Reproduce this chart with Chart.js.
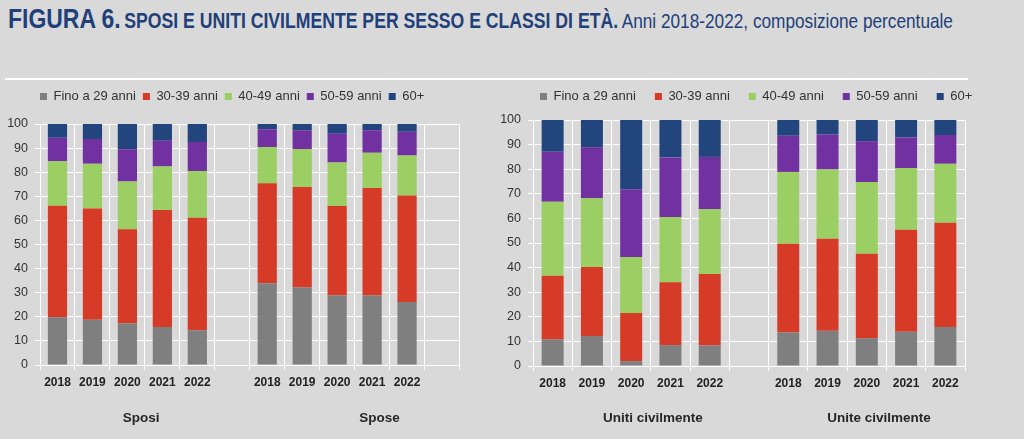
<!DOCTYPE html>
<html>
<head>
<meta charset="utf-8">
<script src="https://cdn.jsdelivr.net/npm/chart.js@4.4.1/dist/chart.umd.min.js"></script>
<style>
  html, body { margin: 0; padding: 0; }
  body { width: 1024px; height: 439px; background: #d9d9d9; position: relative; overflow: hidden; font-family: "Liberation Sans", Arial, sans-serif; }
  .title { position: absolute; left: 8px; top: 5px; white-space: nowrap; color: #213f79; line-height: 1; transform: scaleX(0.82); transform-origin: 0 0; }
  .title .fig { font-weight: bold; font-size: 28px; }
  .title .main { font-weight: bold; font-size: 21.5px; }
  .title .sub { font-size: 21px; }
  .rule { position: absolute; left: 5px; top: 78px; width: 963px; height: 2px; background: #fff; }
  .box { position: absolute; }
</style>
</head>
<body>
<div class="title"><span class="fig">FIGURA 6.</span> <span class="main">SPOSI E UNITI CIVILMENTE PER SESSO E CLASSI DI ETÀ.</span> <span class="sub">Anni 2018-2022, composizione percentuale</span></div>
<div class="rule"></div>
<div class="box" style="left:0;top:80px;width:500px;height:355px"><canvas id="chartLeft"></canvas></div>
<div class="box" style="left:496px;top:71px;width:528px;height:364px"><canvas id="chartRight"></canvas></div>
<script>
const years = ['2018', '2019', '2020', '2021', '2022'];
const ageClasses = ['Fino a 29 anni', '30-39 anni', '40-49 anni', '50-59 anni', '60+'];
const colors = ['#7f7f7f', '#d63b27', '#9bcf63', '#7131a1', '#22457e'];

// one row per age class, one value per year (percent)
const sposi = [
    [19.8, 18.8, 17.2, 15.8, 14.4],
    [46.3, 46.1, 39.1, 48.5, 46.7],
    [18.4, 18.6, 19.8, 18.1, 19.4],
    [9.8, 10.3, 13.4, 10.7, 12.0],
    [5.7, 6.2, 10.5, 6.9, 7.5]
];
const spose = [
    [33.9, 32.2, 28.8, 28.8, 26.1],
    [41.5, 41.7, 37.2, 44.6, 44.2],
    [15.1, 15.7, 18.0, 14.7, 16.6],
    [7.3, 7.8, 12.0, 9.3, 9.9],
    [2.2, 2.6, 4.0, 2.6, 3.2]
];
const unitiCivilmente = [
    [10.8, 12.2, 2.0, 8.5, 8.3],
    [25.9, 28.0, 19.5, 25.5, 29.1],
    [30.1, 28.0, 22.8, 26.6, 26.3],
    [20.3, 20.7, 27.5, 24.2, 21.3],
    [12.9, 11.1, 28.2, 15.2, 15.0]
];
const uniteCivilmente = [
    [13.6, 14.3, 11.3, 13.9, 15.9],
    [36.1, 37.4, 34.3, 41.5, 42.3],
    [29.2, 28.2, 29.2, 25.1, 24.0],
    [14.7, 14.2, 16.6, 12.4, 11.7],
    [6.4, 5.9, 8.6, 7.1, 6.1]
];
const yTicks = [0, 10, 20, 30, 40, 50, 60, 70, 80, 90, 100];

Chart.defaults.font.family = '"Liberation Sans", Arial, sans-serif';
Chart.defaults.animation = false;

// fixed legend height and left edge, so legend and plot sit like the original
function legendPlace(h, left) {
    return {
        id: 'legendPlace',
        beforeLayout(chart) {
            const lg = chart.legend;
            if (!lg || lg._fixedH) return;
            const fit = lg.fit;
            lg.fit = function () { fit.call(this); this.height = h; };
            lg._fixedH = true;
        },
        afterLayout(chart) {
            const lg = chart.legend;
            const w = lg.right - lg.left;
            lg.left = left;
            lg.right = left + w;
        }
    };
}

// "Sposi", "Spose" ... under the years
const groupLabels = {
    id: 'groupLabels',
    afterDraw(chart, args, opts) {
        const ctx = chart.ctx;
        const x = chart.scales.x;
        ctx.save();
        ctx.font = 'bold 13.5px "Liberation Sans", Arial, sans-serif';
        ctx.fillStyle = '#262626';
        ctx.textAlign = 'center';
        ctx.textBaseline = 'middle';
        opts.labels.forEach((t, i) => {
            ctx.fillText(t, x.getPixelForValue(opts.at[i]), x.bottom + opts.dy);
        });
        ctx.restore();
    }
};

function makePanel(id, a, b, trailingGap, cfg) {
    const labels = [...years, '', ...years].concat(trailingGap ? [''] : []);
    const datasets = ageClasses.map((name, i) => ({
        label: name,
        data: [...a[i], null, ...b[i]].concat(trailingGap ? [null] : []),
        backgroundColor: colors[i],
        borderWidth: 0,
        barPercentage: cfg.barPct,
        categoryPercentage: 1
    }));

    new Chart(document.getElementById(id), {
        type: 'bar',
        data: { labels: labels, datasets: datasets },
        options: {
            responsive: true,
            maintainAspectRatio: false,
            layout: { padding: { left: 0, top: cfg.padTop, right: 0, bottom: 0 } },
            plugins: {
                legend: {
                    position: 'top',
                    align: 'start',
                    labels: {
                        boxWidth: 7,
                        boxHeight: 7,
                        padding: cfg.legendGap,
                        color: '#333333',
                        font: { size: 13 }
                    }
                },
                tooltip: { enabled: false },
                groupLabels: { labels: cfg.groups, at: cfg.groupAt, dy: -17 }
            },
            scales: {
                x: {
                    stacked: true,
                    grid: { color: '#ffffff', lineWidth: 1, tickLength: 5 },
                    border: { color: '#ffffff', width: 1 },
                    ticks: {
                        color: '#222222',
                        padding: 5,
                        maxRotation: 0,
                        autoSkip: false,
                        font: { size: 12, weight: 'bold' }
                    },
                    afterFit(s) { s.height = cfg.xHeight; }
                },
                y: {
                    stacked: true,
                    min: 0,
                    max: 100,
                    afterBuildTicks(s) { s.ticks = yTicks.map(v => ({ value: v })); },
                    grid: { color: '#ffffff', lineWidth: 1, tickLength: 5 },
                    border: { color: '#ffffff', width: 1 },
                    ticks: { color: '#333333', padding: 7, font: { size: 12.5 } },
                    afterFit(s) { s.width = cfg.yWidth; }
                },
                yr: {
                    position: 'right',
                    grid: { display: false },
                    border: { display: false },
                    ticks: { display: false },
                    afterFit(s) { s.width = cfg.rightSpace; }
                }
            }
        },
        plugins: [legendPlace(cfg.legendH, cfg.legendLeft), groupLabels]
    });
}

makePanel('chartLeft', sposi, spose, true, {
    barPct: 0.55, padTop: 3, legendGap: 7, legendH: 41, legendLeft: 33,
    yWidth: 40, rightSpace: 40.5, xHeight: 70,
    groups: ['Sposi', 'Spose'], groupAt: [2.39, 9.21]
});

makePanel('chartRight', unitiCivilmente, uniteCivilmente, false, {
    barPct: 0.56, padTop: 0, legendGap: 19, legendH: 49, legendLeft: 25,
    yWidth: 37, rightSpace: 59, xHeight: 69,
    groups: ['Uniti civilmente', 'Unite civilmente'], groupAt: [2.55, 8.31]
});
</script>
</body>
</html>
